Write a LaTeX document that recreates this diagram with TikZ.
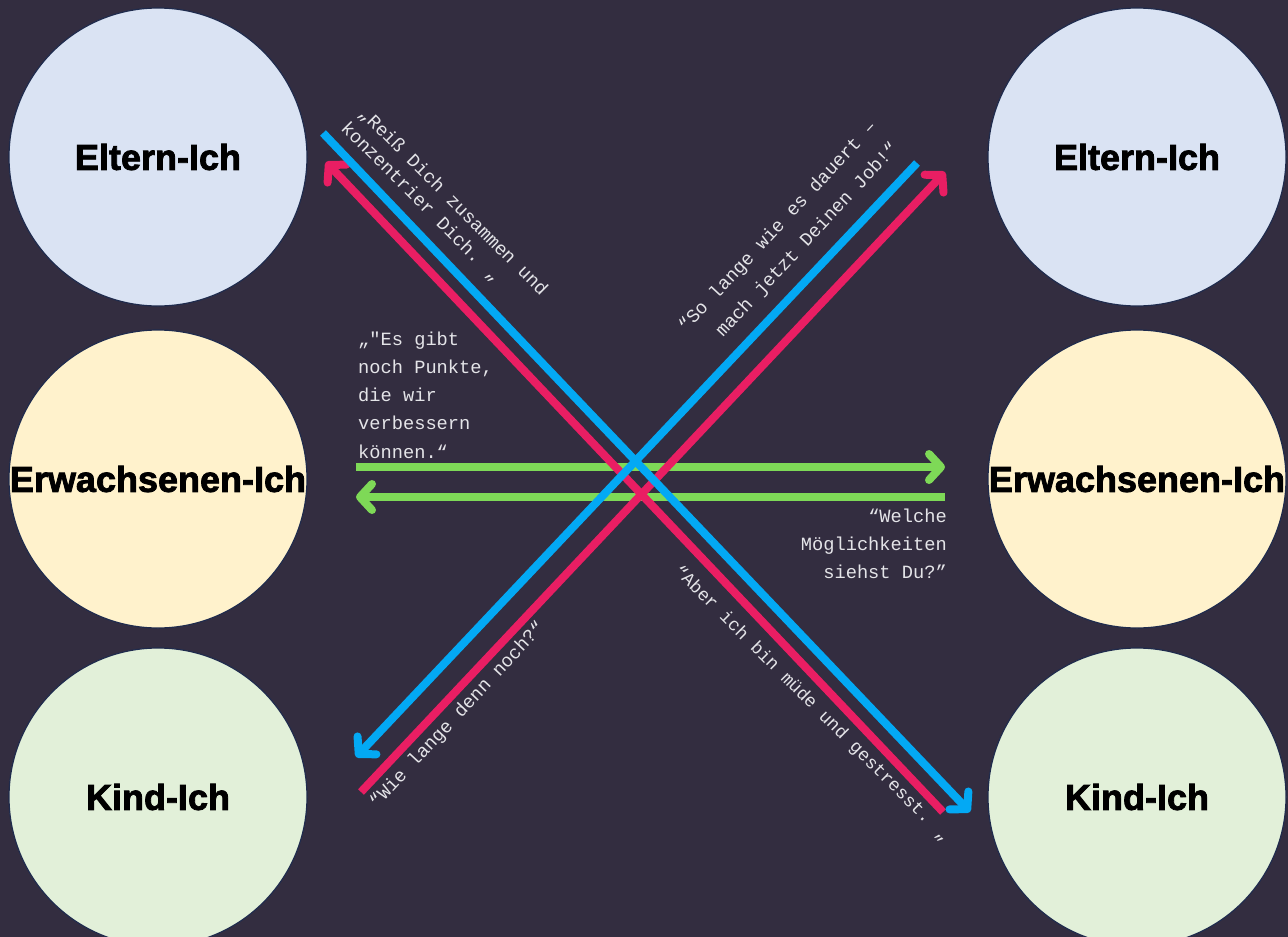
\documentclass[tikz,border=0pt]{standalone}
\usepackage{fontspec}
\usetikzlibrary{arrows.meta}
\newfontfamily\egofont{Liberation Sans}[BoldFeatures={FakeBold=2.2}]
\newfontfamily\quotefont{Liberation Mono}

\definecolor{bg}{HTML}{332D40}
\definecolor{egoedge}{HTML}{1F2B4D}
\definecolor{parentfill}{HTML}{DAE3F3}
\definecolor{adultfill}{HTML}{FFF2CC}
\definecolor{childfill}{HTML}{E2F0D9}
\definecolor{msgblue}{HTML}{03A9F4}
\definecolor{msgpink}{HTML}{E91E63}
\definecolor{msggreen}{HTML}{7ED957}
\definecolor{quotegray}{HTML}{E4E4E8}

\begin{document}
\begin{tikzpicture}[x=1pt,y=-1pt,
  ego/.style={circle, draw=egoedge, line width=1.2pt, minimum size=298pt,
    inner sep=0pt, text=black,
    font=\egofont\bfseries\fontsize{36}{40}\selectfont},
  msg/.style={line width=8pt, line cap=butt},
  tipped/.style={msg, -{Straight Barb[length=12pt,width=26pt,round]}},
  say/.style={text=quotegray, inner sep=0pt,
    font=\quotefont\fontsize{18.7}{28.25}\selectfont}
]
\useasboundingbox (0,0) rectangle (1288,937);
\fill[bg] (0,0) rectangle (1288,937);

% ego states, left and right
\node[ego, fill=parentfill] (lp) at (158,157) {Eltern-Ich};
\node[ego, fill=adultfill]  (la) at (158,479) {Erwachsenen-Ich};
\node[ego, fill=childfill]  (lc) at (158,797) {Kind-Ich};
\node[ego, fill=parentfill] (rp) at (1137,157) {Eltern-Ich};
\node[ego, fill=adultfill]  (ra) at (1137,479) {Erwachsenen-Ich};
\node[ego, fill=childfill]  (rc) at (1137,797) {Kind-Ich};

% end points of the transactions
\coordinate (b1s) at (323,133); \coordinate (b1e) at (970,812);
\coordinate (p1s) at (943,812); \coordinate (p1e) at (326,162);
\coordinate (b2s) at (917,163); \coordinate (b2e) at (356,757);
\coordinate (p2s) at (361,792); \coordinate (p2e) at (945,172);
\coordinate (g1s) at (356,467); \coordinate (g1e) at (945,467);
\coordinate (g2s) at (945,497); \coordinate (g2e) at (356,497);

% adult to adult
\draw[tipped, msggreen] (g1s) -- (g1e);
\draw[tipped, msggreen] (g2s) -- (g2e);
% crossed transactions
\draw[tipped, msgpink] (p1s) -- (p1e);
\draw[tipped, msgpink] (p2s) -- (p2e);
\draw[tipped, msgblue] (b1s) -- (b1e);
\draw[tipped, msgblue] (b2s) -- (b2e);

% spoken messages
\node[say, anchor=base west, rotate=-45] (r1) at (358,114) {„Reiß Dich zusammen und};
\node[say, anchor=base west, rotate=-45] (r2) at (340,129) {konzentrier Dich. „};

\node[say, anchor=base west, rotate=47] (s1) at (686,333) {“So lange wie es dauert –};
\node[say, anchor=base west, rotate=47] (s2) at (723,338) {mach jetzt Deinen Job!“};

\node[say, anchor=base west, rotate=47] (w1) at (377,809) {“Wie lange denn noch?“};

\node[say, anchor=base west, rotate=-45, font=\quotefont\fontsize{18}{27}\selectfont]
  (a1) at (673,572) {“Aber ich bin müde und gestresst. „};

\foreach \t [count=\i] in {{„"Es gibt}, {noch Punkte,}, {die wir}, {verbessern}, {können.“}}
  \node[say, anchor=base west] (e\i) at (358,{345+28.25*(\i-1)}) {\t};

\foreach \t [count=\i] in {{“Welche}, {Möglichkeiten}, {siehst Du?”}}
  \node[say, anchor=base east] (m\i) at (947,{522+28*(\i-1)}) {\t};
\end{tikzpicture}
\end{document}
